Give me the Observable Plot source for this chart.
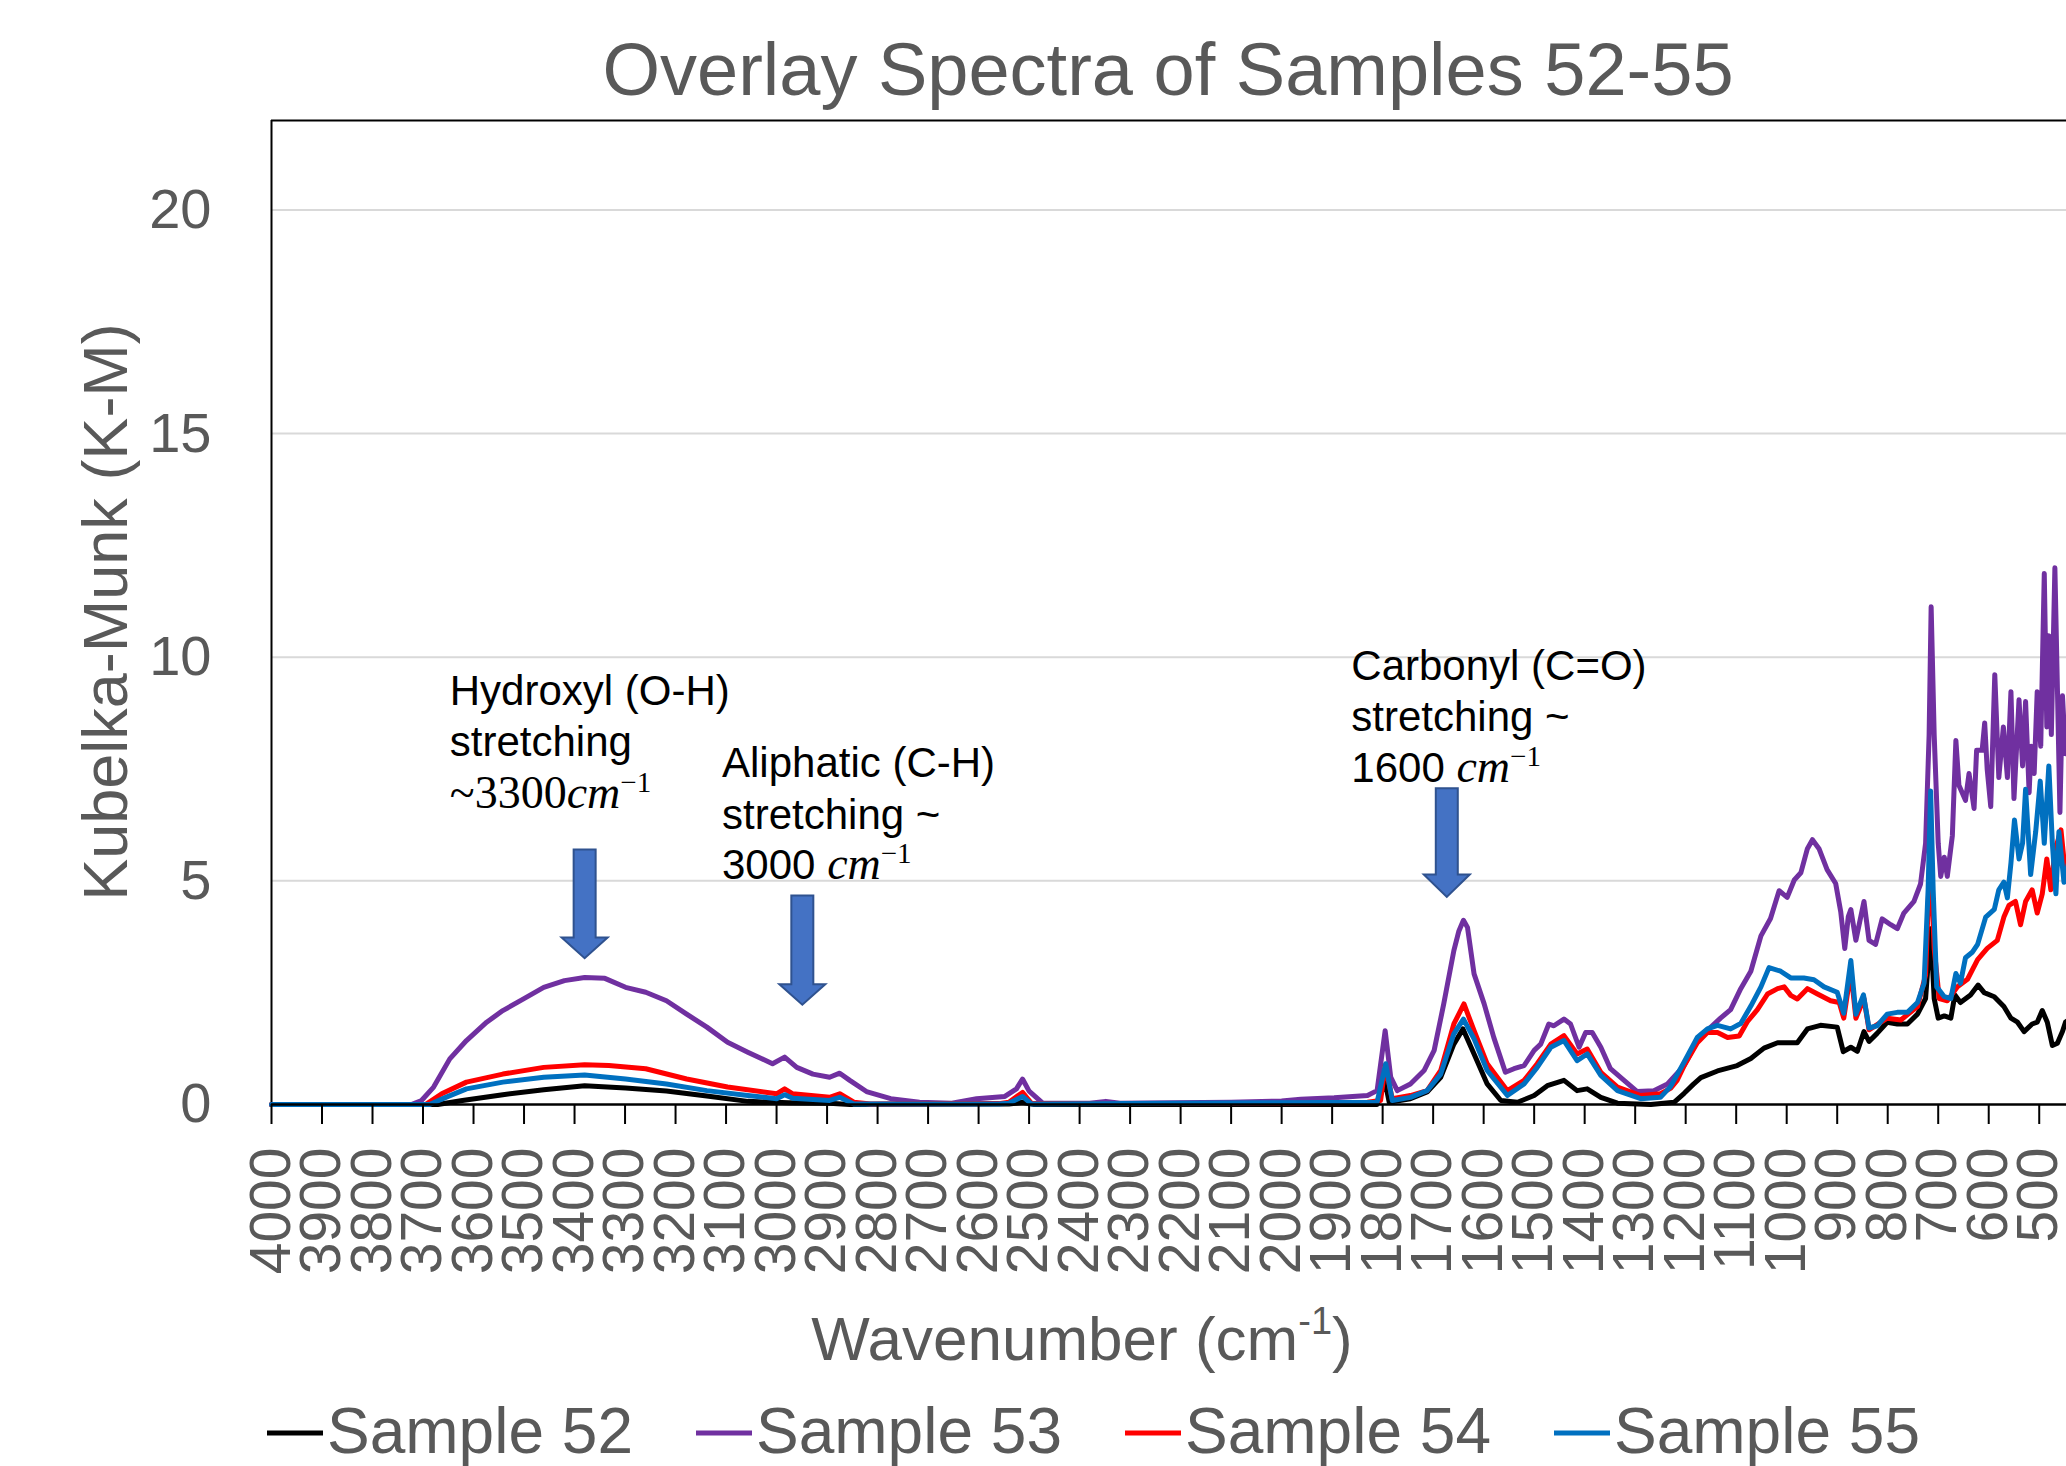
<!DOCTYPE html>
<html>
<head>
<meta charset="utf-8">
<script src="https://cdn.jsdelivr.net/npm/d3@7"></script>
<script src="https://cdn.jsdelivr.net/npm/@observablehq/plot@0.6"></script>
<style>
  html, body { margin: 0; padding: 0; background: #ffffff; }
  #chart { width: 2066px; height: 1466px; overflow: hidden; }
</style>
</head>
<body>
<div id="chart"></div>
<script>
// ---------------- DATA ----------------
const seriesNames = ["Sample 52", "Sample 53", "Sample 54", "Sample 55"];
const seriesColors = ["#000000", "#7030A0", "#FF0000", "#0070C0"];

const wn52 = [4000,3671,3622,3542,3461,3380,3299,3218,3138,3057,2976,2895,2855,2540,2513,2490,1811,1795,1787,1745,1712,1685,1659,1641,1619,1593,1566,1533,1500,1474,1441,1415,1395,1368,1335,1269,1223,1203,1185,1170,1137,1098,1071,1045,1018,979,959,933,900,888,873,860,847,837,821,801,781,761,741,725,715,708,700,688,675,667,656,636,621,609,589,570,556,543,530,514,504,494,484,474,464,454,448,440];
const km52 = [0,0,0.09,0.22,0.33,0.42,0.37,0.30,0.19,0.07,0.04,0.03,0,0.01,0.05,0,0,0.50,0.05,0.13,0.28,0.61,1.35,1.69,1.13,0.46,0.09,0.05,0.20,0.42,0.54,0.31,0.35,0.16,0.03,0,0.05,0.25,0.45,0.60,0.75,0.87,1.03,1.26,1.38,1.38,1.69,1.77,1.73,1.18,1.28,1.19,1.63,1.41,1.59,1.84,1.80,1.80,2.02,2.37,3.93,2.37,1.93,1.98,1.93,2.45,2.28,2.45,2.67,2.50,2.41,2.19,1.93,1.84,1.63,1.80,1.84,2.10,1.84,1.32,1.37,1.63,1.84,1.9];

const wn53 = [4000,3723,3703,3679,3647,3614,3574,3542,3501,3461,3420,3380,3340,3299,3259,3218,3178,3138,3097,3057,3008,2984,2960,2928,2895,2875,2855,2822,2774,2717,2653,2604,2548,2525,2513,2500,2473,2380,2348,2320,2100,2000,1962,1896,1830,1811,1795,1784,1771,1745,1718,1698,1679,1659,1649,1640,1632,1619,1599,1580,1557,1540,1520,1500,1487,1471,1461,1441,1428,1411,1398,1385,1368,1349,1322,1296,1263,1236,1203,1177,1150,1131,1111,1091,1071,1051,1032,1015,999,985,972,959,949,936,920,903,893,885,878,873,863,847,837,824,811,794,781,768,748,735,725,718,714,708,700,695,688,682,672,665,659,646,639,629,624,613,608,603,596,588,580,571,563,556,550,540,533,527,520,516,510,504,497,490,485,481,476,469,464,459,454,448,440];
const km53 = [0,0,0.09,0.39,1.02,1.43,1.84,2.10,2.36,2.62,2.77,2.84,2.82,2.62,2.51,2.32,2.02,1.73,1.39,1.17,0.91,1.06,0.83,0.68,0.61,0.70,0.54,0.29,0.13,0.05,0.03,0.13,0.18,0.35,0.57,0.30,0.03,0.03,0.07,0.03,0.05,0.08,0.12,0.15,0.20,0.31,1.65,0.61,0.31,0.46,0.76,1.21,2.25,3.44,3.88,4.12,3.96,2.92,2.25,1.50,0.72,0.80,0.87,1.21,1.35,1.80,1.76,1.91,1.80,1.28,1.61,1.61,1.28,0.80,0.54,0.29,0.31,0.46,0.87,1.42,1.73,1.93,2.12,2.59,2.98,3.77,4.16,4.78,4.63,5.02,5.18,5.72,5.92,5.72,5.25,4.94,4.31,3.49,4.20,4.36,3.67,4.54,3.67,3.58,4.15,4.02,3.93,4.28,4.54,4.93,5.84,8.27,11.13,8.27,5.84,5.10,5.53,5.10,6.01,8.14,7.14,6.80,7.40,6.62,7.92,7.92,8.53,7.49,6.66,9.61,7.31,8.44,7.31,9.23,6.84,9.05,7.57,9.01,6.97,8.01,7.40,9.23,8.01,11.87,8.44,10.48,8.27,12.00,9.31,6.53,9.14,7.84,8.5];

const wn54 = [4000,3695,3663,3614,3542,3461,3380,3332,3259,3178,3097,3000,2984,2968,2895,2875,2847,2814,2560,2540,2513,2495,2000,1830,1804,1795,1781,1745,1712,1685,1659,1639,1619,1593,1553,1520,1494,1467,1441,1415,1395,1368,1335,1289,1250,1230,1217,1203,1177,1157,1137,1117,1094,1078,1058,1038,1018,1005,992,979,959,939,913,896,887,873,863,847,837,801,774,741,725,716,708,698,682,662,642,622,603,583,570,560,547,537,527,514,504,494,485,477,469,457,448,440];
const km54 = [0,0,0.24,0.50,0.68,0.83,0.89,0.87,0.80,0.57,0.39,0.24,0.35,0.24,0.16,0.24,0.05,0.01,0.02,0.05,0.27,0.02,0.02,0.05,0.09,0.87,0.13,0.20,0.31,0.76,1.80,2.25,1.65,0.91,0.31,0.54,0.91,1.35,1.54,1.13,1.24,0.72,0.39,0.20,0.24,0.36,0.54,0.87,1.38,1.61,1.61,1.50,1.53,1.85,2.12,2.47,2.59,2.63,2.44,2.36,2.59,2.47,2.32,2.28,1.93,2.98,1.93,2.37,1.67,1.93,1.89,2.19,2.89,5.67,3.49,2.37,2.32,2.63,2.80,3.24,3.49,3.67,4.19,4.45,4.54,4.02,4.54,4.80,4.28,4.71,5.49,4.80,5.67,6.14,5.14,5.5];

const wn55 = [4000,3687,3655,3614,3542,3461,3380,3299,3218,3138,3057,3000,2984,2968,2895,2875,2847,2560,2540,2513,2495,1811,1794,1781,1745,1712,1685,1659,1640,1619,1593,1553,1520,1494,1467,1441,1415,1395,1368,1335,1289,1250,1230,1203,1177,1157,1137,1111,1091,1071,1051,1035,1012,992,966,946,926,900,887,873,863,848,837,821,801,781,761,741,728,720,715,710,703,688,675,665,656,646,632,622,606,589,580,570,563,556,549,540,533,527,517,507,498,490,481,474,467,461,451,440];
const km55 = [0,0,0.16,0.35,0.50,0.61,0.66,0.57,0.46,0.31,0.20,0.13,0.22,0.14,0.09,0.16,0.01,0.01,0.03,0.18,0.01,0.05,0.91,0.09,0.16,0.31,0.68,1.58,1.91,1.47,0.76,0.20,0.46,0.83,1.28,1.43,0.98,1.13,0.65,0.31,0.13,0.16,0.40,0.95,1.50,1.69,1.77,1.69,1.81,2.20,2.63,3.06,2.98,2.83,2.83,2.79,2.63,2.51,2.04,3.22,2.02,2.45,1.71,1.76,2.02,2.06,2.06,2.28,2.71,4.80,7.01,4.80,2.63,2.41,2.37,2.93,2.71,3.28,3.41,3.58,4.19,4.36,4.80,4.97,4.62,5.40,6.36,5.49,5.84,7.05,5.14,6.10,7.23,5.84,7.57,5.84,4.71,6.10,4.97,5.5];

const xTicks = d3.range(4000, 499, -100);
const yTicks = [0, 5, 10, 15, 20];

const titleText = "Overlay Spectra of Samples 52-55";
const yTitle = "Kubelka-Munk (K-M)";

// annotation anchors (wavenumber, K-M value)
const notes = [
  { x: 3646, ys: [8.92, 7.79, 6.61], lines: [
      [{ t: "Hydroxyl (O-H)" }],
      [{ t: "stretching" }],
      [{ t: "~3300", serif: true }, { t: "cm", serif: true, italic: true }, { t: "\u22121", serif: true, sup: true }] ] },
  { x: 3107, ys: [7.30, 6.15, 5.03], lines: [
      [{ t: "Aliphatic (C-H)" }],
      [{ t: "stretching ~" }],
      [{ t: "3000 " }, { t: "cm", serif: true, italic: true }, { t: "\u22121", serif: true, sup: true }] ] },
  { x: 1861, ys: [9.48, 8.34, 7.20], lines: [
      [{ t: "Carbonyl (C=O)" }],
      [{ t: "stretching ~" }],
      [{ t: "1600 " }, { t: "cm", serif: true, italic: true }, { t: "\u22121", serif: true, sup: true }] ] }
];
const arrows = [
  { x: 3379, top: 5.69, head: 3.72, tip: 3.26 },
  { x: 2948, top: 4.66, head: 2.68, tip: 2.22 },
  { x: 1672, top: 7.06, head: 5.13, tip: 4.63 }
];

// ---------------- BUILD ----------------
const wnList = [wn52, wn53, wn54, wn55];
const kmList = [km52, km53, km54, km55];
const rows = [];
seriesNames.forEach((name, s) => {
  if (wnList[s].length !== kmList[s].length) throw new Error("length mismatch " + name + " " + wnList[s].length + " vs " + kmList[s].length);
  wnList[s].forEach((w, i) => rows.push({ series: name, wn: w, km: kmList[s][i] }));
});

const SANS = "'Liberation Sans', Arial, Helvetica, sans-serif";
const SERIF = "'Liberation Serif', 'Times New Roman', serif";
const GRAY = "#595959";

const plot = Plot.plot({
  width: 2066,
  height: 1466,
  marginLeft: 271,
  marginRight: 0,
  marginTop: 120,
  marginBottom: 362,
  style: { fontFamily: SANS, background: "#ffffff", overflow: "hidden" },
  x: { domain: [4000, 446], axis: null },
  y: { domain: [0, 22], axis: null },
  color: { domain: seriesNames, range: seriesColors },
  marks: [
    Plot.ruleY(yTicks.filter(d => d > 0), { stroke: "#D9D9D9", strokeWidth: 2 }),
    Plot.ruleY([22], { stroke: "#000000", strokeWidth: 2 }),
    Plot.ruleX([4000], { stroke: "#000000", strokeWidth: 2 }),
    Plot.line(rows, { x: "wn", y: "km", z: "series", stroke: "series", strokeWidth: 5, strokeLinejoin: "round", strokeLinecap: "round" }),
    Plot.ruleY([0], { stroke: "#000000", strokeWidth: 2.5 }),
    Plot.ruleX(xTicks, { x: d => d, y1: () => 0, y2: () => 0, insetBottom: -20, stroke: "#000000", strokeWidth: 2 }),
    Plot.text(xTicks, { x: d => d, frameAnchor: "bottom", dy: 43, rotate: -90, textAnchor: "end", lineAnchor: "middle", text: d => String(d), fontSize: 57, fill: GRAY, fontFamily: SANS }),
    Plot.text(yTicks, { y: d => d, frameAnchor: "left", dx: -60, textAnchor: "end", lineAnchor: "middle", text: d => String(d), fontSize: 56, fill: GRAY, fontFamily: SANS })
  ]
});

document.getElementById("chart").appendChild(plot);

const sx = plot.scale("x");
const sy = plot.scale("y");
const svg = d3.select(plot);

// title
svg.append("text")
  .attr("x", 1168).attr("y", 95)
  .attr("text-anchor", "middle")
  .attr("font-family", SANS).attr("font-size", 74).attr("fill", GRAY)
  .text(titleText);

// y axis title
svg.append("text")
  .attr("transform", "translate(127,612) rotate(-90)")
  .attr("text-anchor", "middle")
  .attr("font-family", SANS).attr("font-size", 63).attr("fill", GRAY)
  .text(yTitle);

// x axis title with superscript
const xt = svg.append("text")
  .attr("x", 1082).attr("y", 1360)
  .attr("text-anchor", "middle")
  .attr("font-family", SANS).attr("font-size", 62).attr("fill", GRAY);
xt.append("tspan").text("Wavenumber (cm");
xt.append("tspan").attr("font-size", 38).attr("dy", -26).text("-1");
xt.append("tspan").attr("dy", 26).text(")");

// legend
seriesNames.forEach((name, i) => {
  const x0 = 267 + i * 429;
  svg.append("line")
    .attr("x1", x0).attr("x2", x0 + 56).attr("y1", 1433).attr("y2", 1433)
    .attr("stroke", seriesColors[i]).attr("stroke-width", 5);
  svg.append("text")
    .attr("x", x0 + 60).attr("y", 1453)
    .attr("text-anchor", "start")
    .attr("font-family", SANS).attr("font-size", 64).attr("fill", GRAY)
    .text(name);
});

// arrows
arrows.forEach(a => {
  const cx = sx.apply(a.x), ty = sy.apply(a.top), hy = sy.apply(a.head), py = sy.apply(a.tip);
  const sw = 11, hw = 23;
  const p = `M${cx - sw},${ty}L${cx + sw},${ty}L${cx + sw},${hy}L${cx + hw},${hy}L${cx},${py}L${cx - hw},${hy}L${cx - sw},${hy}Z`;
  svg.append("path").attr("d", p).attr("fill", "#4472C4").attr("stroke", "#2F528F").attr("stroke-width", 2).attr("stroke-linejoin", "miter");
});

// annotation texts
notes.forEach(n => {
  const x = sx.apply(n.x);
  n.lines.forEach((parts, li) => {
    const t = svg.append("text").attr("x", x).attr("y", sy.apply(n.ys[li]))
      .attr("text-anchor", "start")
      .attr("font-family", SANS).attr("font-size", 42).attr("fill", "#000000");
    parts.forEach(p => {
      const ts = t.append("tspan").text(p.t);
      if (p.serif) ts.attr("font-family", SERIF).attr("font-size", 46);
      if (p.italic) ts.attr("font-style", "italic");
      if (p.sup) { ts.attr("font-size", 29).attr("dy", -16); }
    });
  });
});
</script>
</body>
</html>
